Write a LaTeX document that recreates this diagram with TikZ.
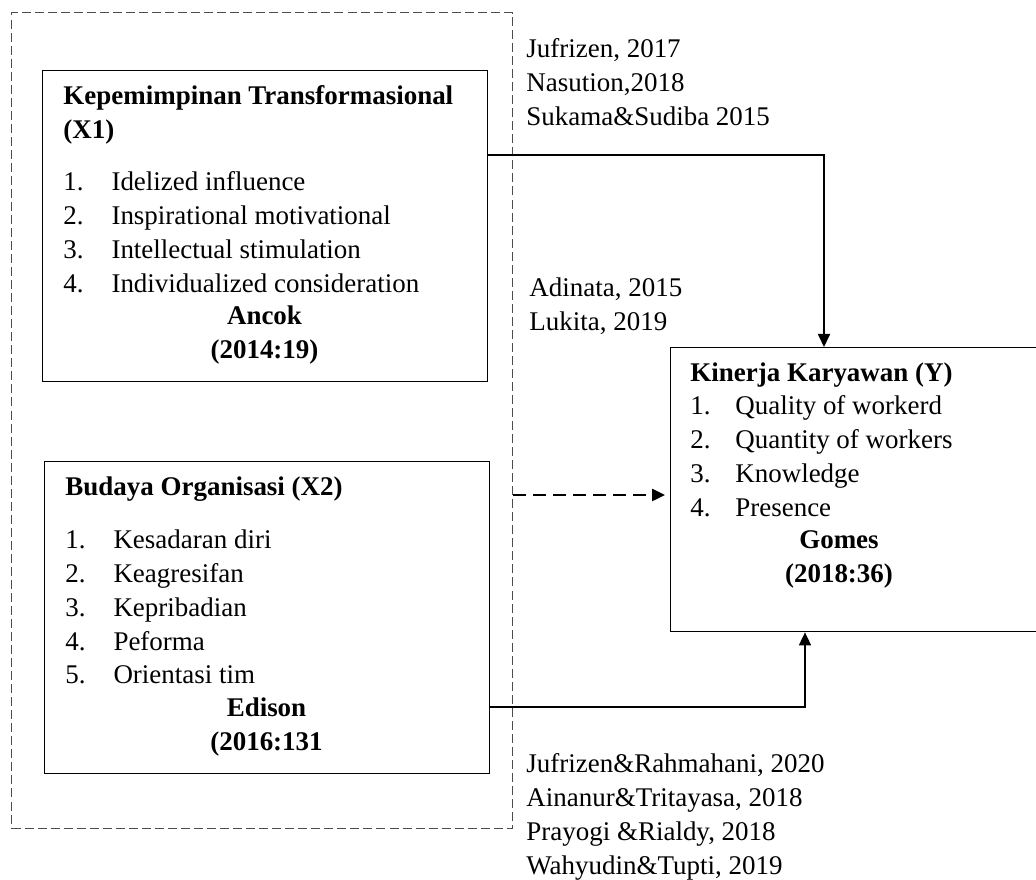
\documentclass[tikz,border=0pt]{standalone}
\usepackage{fontspec}
\setmainfont{Liberation Serif}
\usetikzlibrary{arrows.meta,positioning}
\newcommand{\bodyfont}{\fontsize{12}{15}\selectfont}
\tikzstyle{box} = [draw, rectangle, line width=0.6pt, inner sep=0pt, anchor=north west]
\tikzstyle{txt} = [inner sep=0pt, anchor=base west, font=\bodyfont]
\tikzstyle{ttl} = [inner sep=0pt, anchor=base west, font=\bodyfont\bfseries]
\tikzstyle{src} = [inner sep=0pt, anchor=base, font=\bodyfont\bfseries]
\tikzstyle{line} = [draw, line width=0.6pt, -{Triangle[length=5.8pt,width=5.4pt]}]

\begin{document}
\begin{tikzpicture}[x=0.445pt, y=-0.445pt]
    \useasboundingbox (0,0) rectangle (1036,880);
    % Place nodes
    \node [box, draw=black!70, line width=0.5pt, dash pattern=on 4pt off 1.8pt,
           minimum width=222.9pt, minimum height=363.1pt] (frame) at (11,12) {};

    \node [box, minimum width=198pt, minimum height=138.4pt] (x1) at (42,70) {};
    \node [ttl] (x1title) at (63,105) {\begin{tabular}[t]{@{}l@{}}Kepemimpinan Transformasional\\(X1)\end{tabular}};
    \node [txt] (x1list) at (63,191) {\begin{tabular}[t]{@{}p{21.4pt}@{}l@{}}
        1. & Idelized influence\\
        2. & Inspirational motivational\\
        3. & Intellectual stimulation\\
        4. & Individualized consideration\end{tabular}};
    \node [src] (x1src) at (264.5,325) {\begin{tabular}[t]{@{}c@{}}Ancok\\(2014:19)\end{tabular}};

    \node [box, minimum width=198pt, minimum height=138.8pt] (x2) at (44,461) {};
    \node [ttl] (x2title) at (65,496) {Budaya Organisasi (X2)};
    \node [txt] (x2list) at (65,549) {\begin{tabular}[t]{@{}p{21.4pt}@{}l@{}}
        1. & Kesadaran diri\\
        2. & Keagresifan\\
        3. & Kepribadian\\
        4. & Peforma\\
        5. & Orientasi tim\end{tabular}};
    \node [src] (x2src) at (266.5,717) {\begin{tabular}[t]{@{}c@{}}Edison\\(2016:131\end{tabular}};

    \node [box, minimum width=173.6pt, minimum height=126.4pt] (y) at (670,347) {};
    \node [ttl] (ytitle) at (690,382) {Kinerja Karyawan (Y)};
    \node [txt] (ylist) at (690,415) {\begin{tabular}[t]{@{}p{20pt}@{}l@{}}
        1. & Quality of workerd\\
        2. & Quantity of workers\\
        3. & Knowledge\\
        4. & Presence\end{tabular}};
    \node [src] (ysrc) at (839,549) {\begin{tabular}[t]{@{}c@{}}Gomes\\(2018:36)\end{tabular}};

    \node [txt] (ref1) at (526,58) {\begin{tabular}[t]{@{}l@{}}Jufrizen, 2017\\Nasution,2018\\Sukama\&Sudiba 2015\end{tabular}};
    \node [txt] (ref2) at (529,297) {\begin{tabular}[t]{@{}l@{}}Adinata, 2015\\Lukita, 2019\end{tabular}};
    \node [txt] (ref3) at (526,773) {\begin{tabular}[t]{@{}l@{}}Jufrizen\&Rahmahani, 2020\\Ainanur\&Tritayasa, 2018\\Prayogi \&Rialdy, 2018\\Wahyudin\&Tupti, 2019\end{tabular}};

    % Connectors
    \coordinate (k1) at (824,155);
    \coordinate (k2) at (0,495);
    \coordinate (k3) at (805,707);
    \path [line] (x1.east |- k1) -| (k1 |- y.north);
    \path [line, line width=0.9pt, dash pattern=on 5.8pt off 3.1pt, shorten >=2.2pt] (frame.east |- k2) -- (y.west |- k2);
    \path [line] (x2.east |- k3) -| (k3 |- y.south);
\end{tikzpicture}
\end{document}
